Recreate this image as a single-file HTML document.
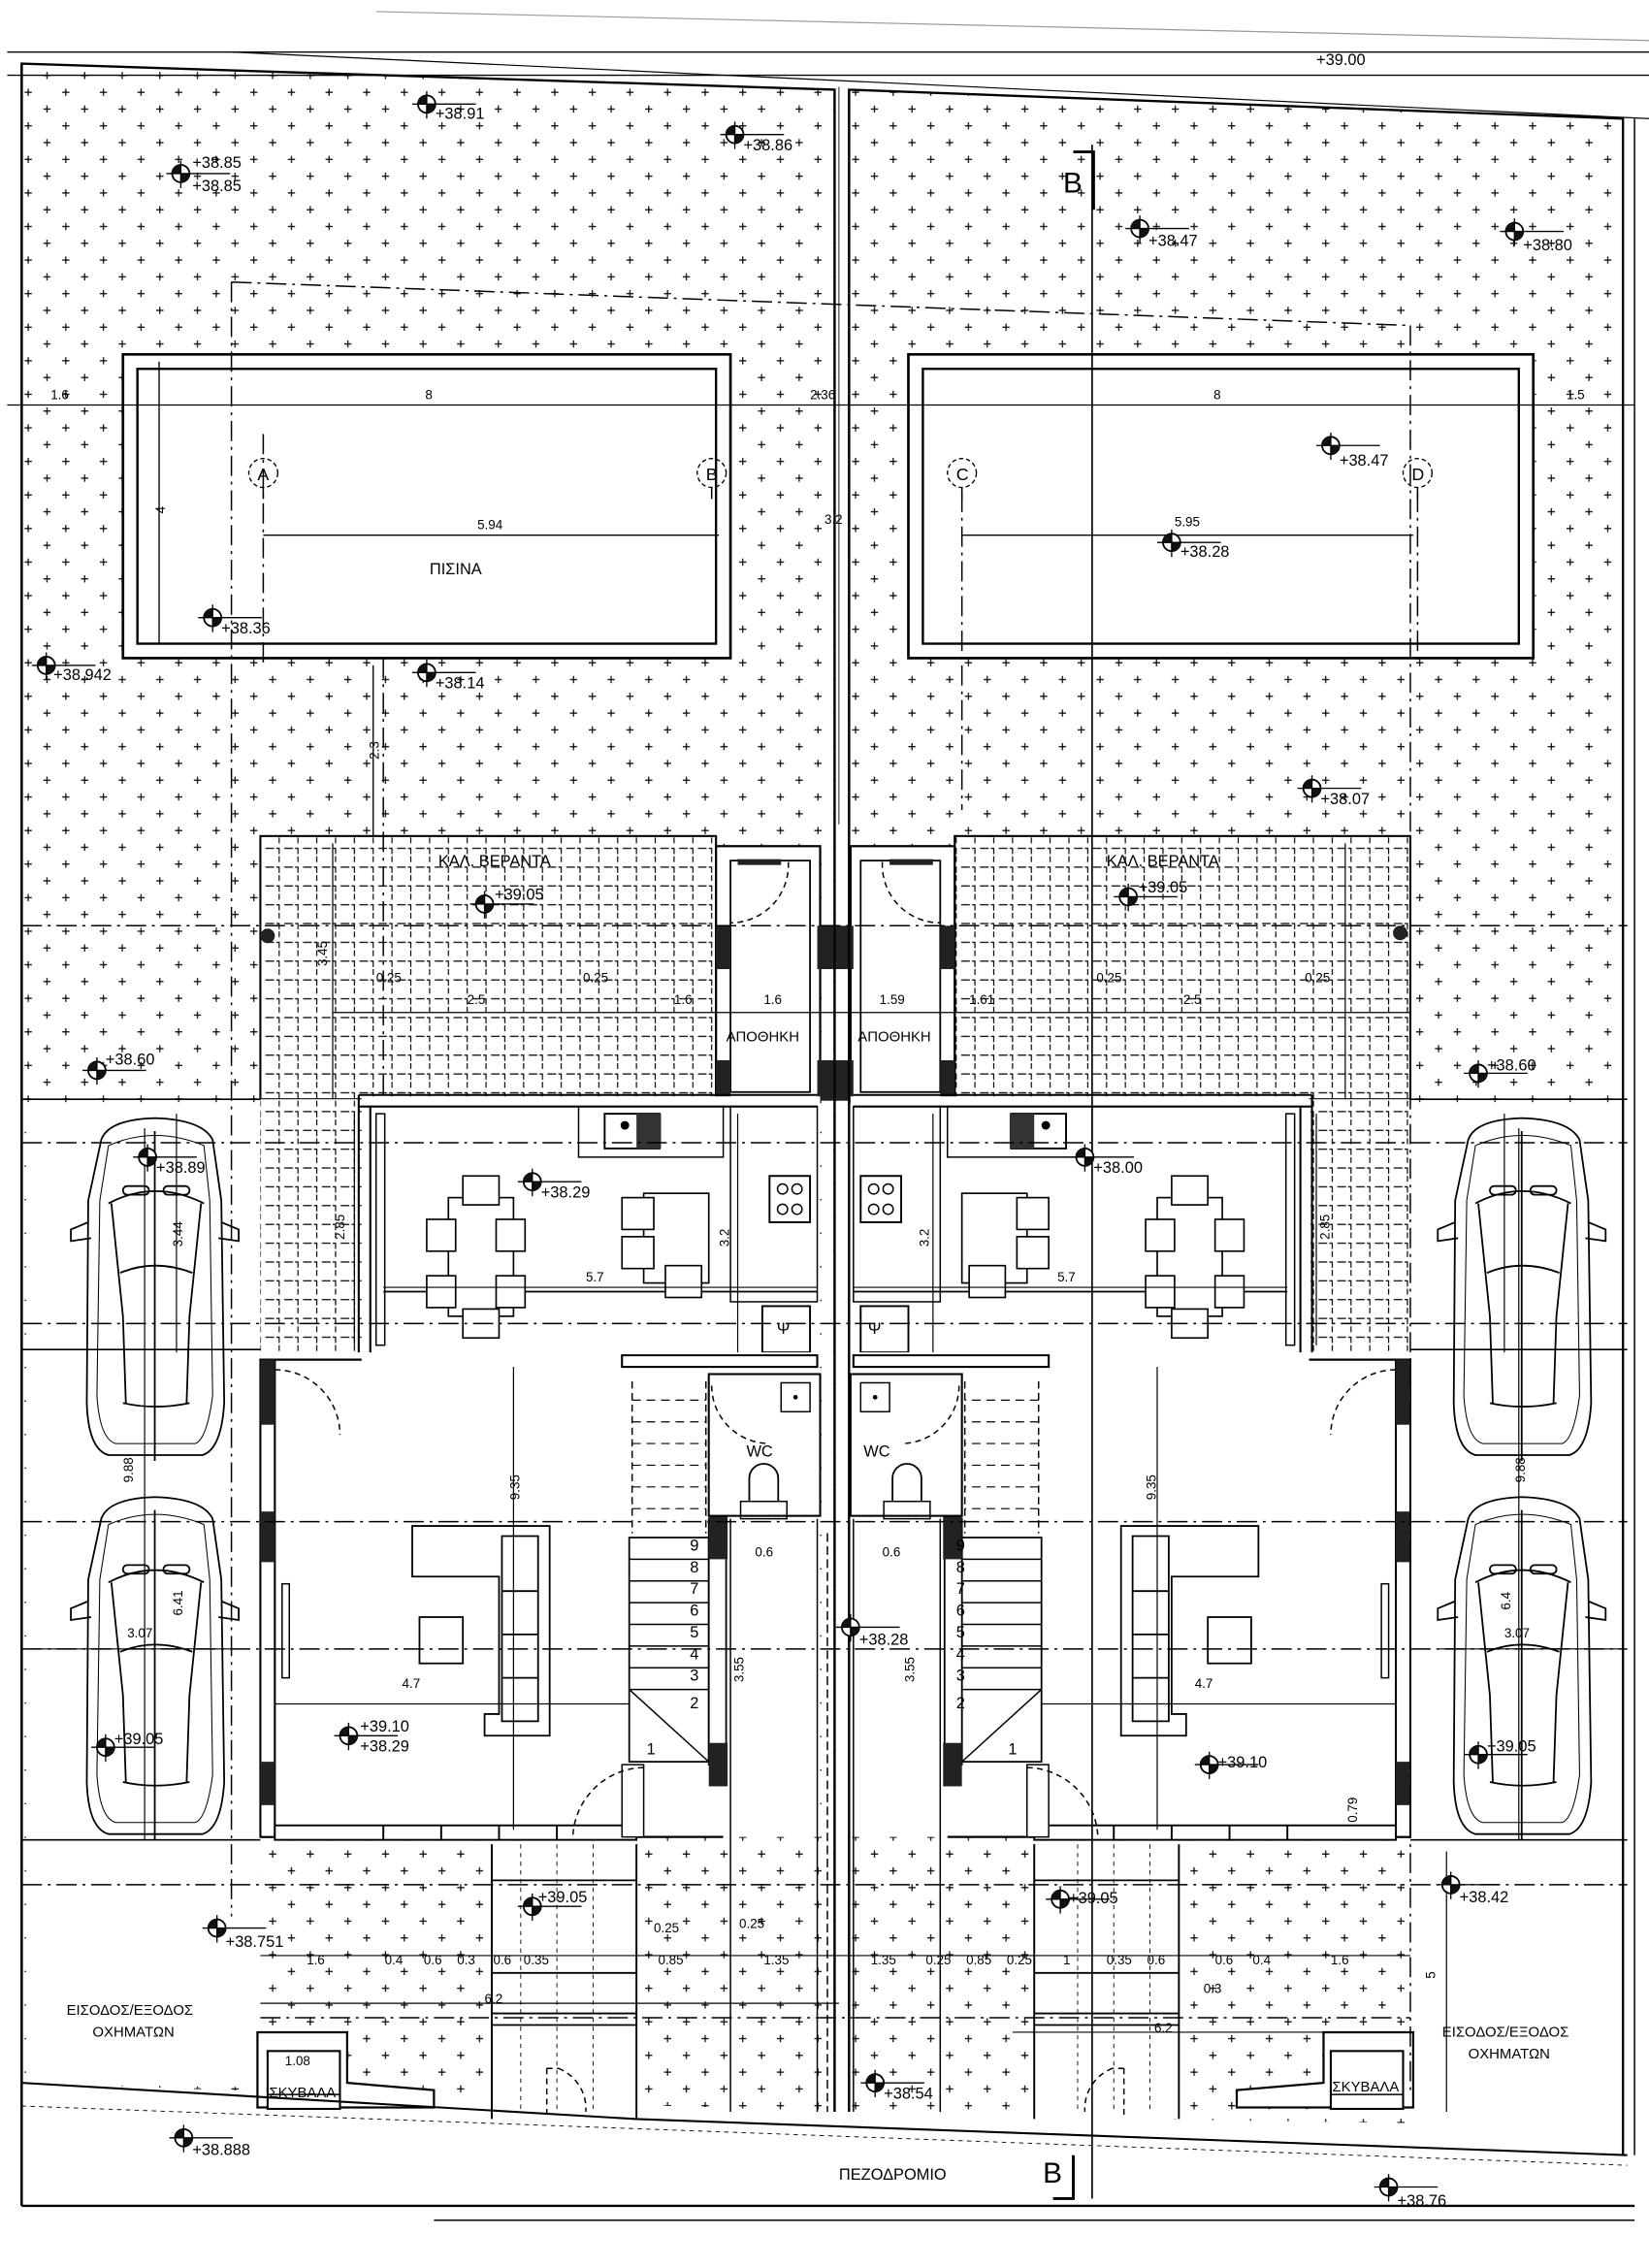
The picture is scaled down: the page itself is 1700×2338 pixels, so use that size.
<!DOCTYPE html>
<html><head><meta charset="utf-8"><style>
html,body{margin:0;padding:0;background:#fff}
svg{display:block}
text{font-family:"Liberation Sans","DejaVu Sans",sans-serif;fill:#000}
</style></head><body>
<svg width="1700" height="2338" viewBox="0 0 1140 1568" preserveAspectRatio="none" xmlns="http://www.w3.org/2000/svg">
<defs>
<pattern id="pl" width="26" height="23.2" patternUnits="userSpaceOnUse">
<path d="M4,5.8h5M6.5,3.3v5M17,17.4h5M19.5,14.9v5" stroke="#000" stroke-width="0.8"/>
</pattern>
<pattern id="tl" width="13" height="13" patternUnits="userSpaceOnUse">
<path d="M1.5,1.5H11V11" stroke="#000" stroke-width="0.8" fill="none" stroke-dasharray="6 1.5"/>
</pattern>
<g id="mk">
<circle r="6" fill="#fff" stroke="#000" stroke-width="1.2"/>
<path d="M0,0H-6A6,6 0 0 1 0,-6Z M0,0H6A6,6 0 0 1 0,6Z" fill="#111"/>
<path d="M-10,0H34M0,-9V10" stroke="#000" stroke-width="0.9"/>
</g>
<g id="car" fill="none" stroke="#000" stroke-width="1.2">
<path d="M15,18 Q20,4 52,3 Q85,4 92,18 L98,60 L100,200 Q98,232 85,236 L20,236 Q6,232 5,200 L6,60 Z"/>
<path d="M20,22 Q52,8 86,22 L90,60 L92,195 Q88,225 80,228 L25,228 Q14,225 12,195 L14,60 Z" stroke-width="0.7"/>
<path d="M20,62 Q52,45 86,62" /><path d="M28,110 Q52,100 78,110"/>
<path d="M22,62 L30,140 L32,200 M84,62 L76,140 L74,200"/>
<path d="M30,200 Q52,205 76,200"/>
<path d="M6,75 L-6,80 L-6,88 L8,86 M98,75 L110,80 L110,88 L96,86"/>
<rect x="30" y="50" width="18" height="6" rx="3"/><rect x="58" y="50" width="18" height="6" rx="3"/>
<path d="M52,12 V240"/>
</g>
</defs>

<path d="M260,8 L1140,28" stroke="#999" stroke-width="0.8" fill="none"/>
<path d="M5,36 H1140 M5,52 H1140" stroke="#000" stroke-width="0.9" fill="none"/>
<path d="M160,36 L1140,82" stroke="#000" stroke-width="0.8" fill="none"/>

<polygon points="15,44 577,62 577,1460 15,1440" fill="url(#pl)"/>
<polygon points="587,62 1122,82 1122,1470 587,1462" fill="url(#pl)"/>
<polyline points="15,1525 15,44 577,62 577,1460" fill="none" stroke="#000" stroke-width="1.6"/>
<polyline points="587,1460 587,62 1122,82 1122,1490" fill="none" stroke="#000" stroke-width="1.6"/>
<path d="M1130,82 V1490" stroke="#000" stroke-width="1"/>

<rect x="85" y="245" width="420" height="210" fill="#fff" stroke="#000" stroke-width="1.8"/>
<rect x="95" y="255" width="400" height="190" fill="none" stroke="#000" stroke-width="1.6"/>
<rect x="628" y="245" width="432" height="210" fill="#fff" stroke="#000" stroke-width="1.8"/>
<rect x="638" y="255" width="412" height="190" fill="none" stroke="#000" stroke-width="1.6"/>

<rect x="18" y="762" width="160" height="512" fill="#fff"/>
<rect x="975" y="762" width="145" height="512" fill="#fff"/>
<polygon points="18,1276 178,1276 178,1443 18,1441" fill="#fff"/>
<polygon points="975,1276 1120,1276 1120,1470 975,1468" fill="#fff"/>
<polygon points="15,1440 1130,1490 1130,1525 15,1525" fill="#fff"/>

<rect x="180" y="578" width="315" height="182" fill="#fff"/>
<rect x="180" y="578" width="315" height="182" fill="url(#tl)" stroke="#000" stroke-width="1.4"/>
<rect x="660" y="578" width="315" height="182" fill="#fff"/>
<rect x="660" y="578" width="315" height="182" fill="url(#tl)" stroke="#000" stroke-width="1.4"/>
<rect x="180" y="760" width="70" height="180" fill="#fff"/>
<rect x="180" y="760" width="70" height="180" fill="url(#tl)"/>
<rect x="905" y="760" width="70" height="180" fill="#fff"/>
<rect x="905" y="760" width="70" height="180" fill="url(#tl)"/>

<g id="house">
<rect x="495" y="585" width="72" height="177" fill="#fff" stroke="#000" stroke-width="1.5"/>
<rect x="505" y="595" width="55" height="160" fill="none" stroke="#000" stroke-width="1.2"/>
<rect x="495" y="640" width="10" height="30" fill="#222"/><rect x="495" y="733" width="10" height="28" fill="#222"/>
<rect x="565" y="640" width="14" height="30" fill="#222"/><rect x="565" y="733" width="14" height="28" fill="#222"/>
<rect x="510" y="594" width="30" height="4" fill="#222"/>
<path d="M545,596 A40,40 0 0 1 505,638" fill="none" stroke="#000" stroke-dasharray="4 3"/>
<rect x="250" y="758" width="317" height="180" fill="#fff"/>
<path d="M248,757 H565 M248,765 H565 M248,757 V940 M256,765 V940" stroke="#000" stroke-width="1.4" fill="none"/>
<rect x="260" y="770" width="6" height="160" fill="none" stroke="#000"/>
<path d="M265,893 H565" stroke="#000" stroke-width="1.2"/>
<rect x="400" y="765" width="100" height="35" fill="none" stroke="#000"/>
<rect x="418" y="770" width="38" height="24" fill="none" stroke="#000" stroke-width="1.3"/>
<circle cx="432" cy="778" r="3" fill="#000"/>
<rect x="440" y="770" width="17" height="24" fill="#333"/>
<rect x="505" y="765" width="60" height="135" fill="none" stroke="#000"/>
<rect x="532" y="813" width="28" height="32" fill="none" stroke="#000" stroke-width="1.3"/>
<circle cx="541" cy="822" r="3.5" fill="none" stroke="#000"/><circle cx="551" cy="822" r="3.5" fill="none" stroke="#000"/>
<circle cx="541" cy="836" r="3.5" fill="none" stroke="#000"/><circle cx="551" cy="836" r="3.5" fill="none" stroke="#000"/>
<rect x="527" y="903" width="33" height="32" fill="#fff" stroke="#000" stroke-width="1.3"/>
<g fill="#fff" stroke="#000" stroke-width="1.1">
<rect x="310" y="828" width="45" height="82"/>
<rect x="320" y="813" width="25" height="20"/><rect x="320" y="905" width="25" height="20"/>
<rect x="295" y="843" width="20" height="22"/><rect x="295" y="882" width="20" height="22"/>
<rect x="343" y="843" width="20" height="22"/><rect x="343" y="882" width="20" height="22"/>
<rect x="445" y="825" width="45" height="62"/>
<rect x="430" y="828" width="22" height="22"/><rect x="430" y="855" width="22" height="22"/>
<rect x="460" y="875" width="25" height="22"/>
</g>
<rect x="180" y="935" width="387" height="335" fill="#fff"/>
<path d="M430,937 H565 V945 H430 Z" fill="#fff" stroke="#000" stroke-width="1.4"/>
<path d="M180,940 H250 M180,1270 H500" stroke="#000" stroke-width="1.5" fill="none"/>
<rect x="180" y="940" width="10" height="330" fill="#fff" stroke="#000" stroke-width="1.4"/>
<rect x="180" y="940" width="10" height="45" fill="#222"/><rect x="180" y="1045" width="10" height="35" fill="#222"/>
<rect x="180" y="1218" width="10" height="30" fill="#222"/>
<rect x="195" y="1095" width="5" height="65" fill="none" stroke="#000"/>
<rect x="190" y="1262" width="250" height="10" fill="#fff" stroke="#000" stroke-width="1.3"/>
<path d="M265,1262 V1272 M305,1262 V1272 M345,1262 V1272 M385,1262 V1272" stroke="#000" stroke-width="1.3"/>
<path d="M190,947 A45,45 0 0 1 235,992" fill="none" stroke="#000" stroke-dasharray="4 3"/>
<g fill="#fff" stroke="#000" stroke-width="1.2">
<path d="M285,1055 H380 V1200 H335 V1185 H345 V1090 H285 Z"/>
<path d="M347,1062 H372 V1190 H347 Z"/>
<path d="M347,1100 H372 M347,1130 H372 M347,1160 H372"/>
<rect x="290" y="1118" width="30" height="32"/>
</g>
<rect x="435" y="950" width="55" height="268" fill="#fff"/>
<path d="M437,955 V1060 M488,955 V1060" stroke="#000" stroke-dasharray="5 3"/>
<g stroke="#000" stroke-dasharray="6 4" stroke-width="0.8"><path d="M437,968H488M437,983H488M437,998H488M437,1013H488M437,1028H488M437,1043H488"/></g>
<path d="M435,1063 H490 V1218 H435 Z" fill="none" stroke="#000" stroke-width="1.2"/>
<path d="M435,1078H490M435,1093H490M435,1108H490M435,1123H490M435,1138H490M435,1153H490M435,1168H490" stroke="#000"/>
<path d="M435,1168 L490,1218" stroke="#000"/>
<rect x="490" y="1050" width="12" height="170" fill="#fff" stroke="#000" stroke-width="1.2"/>
<rect x="490" y="1048" width="13" height="30" fill="#222"/><rect x="490" y="1205" width="13" height="30" fill="#222"/>
<rect x="430" y="1220" width="15" height="50" fill="#fff" stroke="#000"/>
<path d="M445,1222 A50,50 0 0 0 396,1270" fill="none" stroke="#000" stroke-dasharray="4 3"/>
<rect x="490" y="950" width="77" height="98" fill="#fff" stroke="#000" stroke-width="1.4"/>
<rect x="540" y="956" width="20" height="20" fill="none" stroke="#000"/><circle cx="550" cy="966" r="1.6"/>
<path d="M518,1038 V1022 A10,10 0 0 1 538,1022 V1038" fill="none" stroke="#000" stroke-width="1.2"/>
<rect x="512" y="1038" width="32" height="12" fill="none" stroke="#000"/>
<path d="M492,958 A40,40 0 0 0 532,998" fill="none" stroke="#000" stroke-dasharray="4 3"/>
<path d="M505,1050 V1460 M565,1050 V1460" stroke="#000"/>
<rect x="340" y="1275" width="100" height="190" fill="#fff"/>
<path d="M340,1275 V1465 M440,1275 V1465" stroke="#000" stroke-width="1.3"/>
<path d="M340,1300 H440 M340,1364 H440 M340,1392 H440 M340,1400 H440" stroke="#000" stroke-width="1.2"/>
<path d="M378,1430 H386 M378,1430 V1462 M386,1430 A30,30 0 0 1 405,1460" fill="none" stroke="#000" stroke-dasharray="4 3"/>
<g stroke="#000" stroke-width="0.6" stroke-dasharray="3 3"><path d="M360,1275V1460M385,1275V1460M410,1275V1460"/></g>
<polygon points="178,1405 240,1405 240,1440 300,1445 300,1457 178,1457" fill="#fff" stroke="#000" stroke-width="1.5"/>
<rect x="185" y="1418" width="50" height="40" fill="#fff" stroke="#000" stroke-width="1.4"/>
<path d="M185,1448 H235" stroke="#000"/>
</g>
<use href="#house" transform="translate(1155,0) scale(-1,1)"/>

<path d="M577,62 V1460 M587,62 V1460" stroke="#000" stroke-width="1.4" fill="none"/>
<path d="M572,1060 V1460" stroke="#000" stroke-dasharray="6 3"/>

<g stroke="#000" stroke-width="1" stroke-dasharray="14 4 2 4" fill="none">
<path d="M160,195 L975,225"/>
<path d="M160,195 V1325 M975,225 V1445 M182,300 V460 M665,340 V560 M980,340 V460"/>
<path d="M15,640 H1125 M15,790 H1125 M15,915 H1125 M15,1052 H1125 M15,1140 H1125 M15,1303 H1125 M180,1395 H975"/>
<path d="M265,455 V760"/>
</g>
<path d="M15,760 H180 M975,760 H1125 M15,1272 H180 M975,1272 H1125 M15,933 H180 M975,933 H1125" stroke="#000" stroke-width="1.1" fill="none"/>
<path d="M755,100 V1520" stroke="#000" stroke-width="1.1" fill="none"/>
<path d="M742,105 H756 V145 M728,1520 H742 V1490" stroke="#000" stroke-width="2" fill="none"/>
<path d="M440,1465 L1125,1490" stroke="#000" stroke-width="1.4" fill="none"/>
<path d="M15,1440 L440,1465" stroke="#000" stroke-width="1.4" fill="none"/>
<path d="M15,1525 H1130 M15,1525 V44" stroke="#000" stroke-width="1.6" fill="none"/>
<path d="M15,1456 L1125,1497" stroke="#000" stroke-width="0.6" stroke-dasharray="3 3" fill="none"/>
<path d="M300,1535 H1130" stroke="#000" stroke-width="1"/>

<path d="M5,280 H1130" stroke="#000" stroke-width="0.9"/>
<path d="M110,250 V445" stroke="#000" stroke-width="0.9"/>
<path d="M182,370 H497 M665,370 H977" stroke="#000" stroke-width="0.9"/>
<path d="M580,60 V570" stroke="#000" stroke-width="0.6"/>
<path d="M258,460 V578" stroke="#000" stroke-width="0.9"/>
<g fill="none" stroke="#000" stroke-width="0.9" stroke-dasharray="3 2">
<circle cx="182" cy="327" r="10"/><circle cx="492" cy="327" r="10"/><circle cx="665" cy="327" r="10"/><circle cx="980" cy="327" r="10"/>
</g>
<path d="M182,337 V345 M492,337 V345 M665,337 V345 M980,337 V345" stroke="#000"/>
<path d="M230,700 H975" stroke="#000" stroke-width="0.9"/>
<path d="M230,583 V760 M930,583 V760" stroke="#000" stroke-width="0.8"/>
<path d="M265,890 H565 M590,890 H890" stroke="#000" stroke-width="0.8"/>
<path d="M245,770 V930 M910,770 V930" stroke="#000" stroke-width="0.8"/>
<path d="M510,770 V935 M645,770 V935" stroke="#000" stroke-width="0.8"/>
<path d="M355,945 V1265 M800,945 V1265" stroke="#000" stroke-width="0.8"/>
<path d="M190,1178 H435 M720,1178 H965" stroke="#000" stroke-width="0.8"/>
<path d="M20,1140 H160 M995,1140 H1120" stroke="#000" stroke-width="0.8"/>
<path d="M100,780 V1272 M1050,780 V1272 M122,770 V935 M1040,770 V935" stroke="#000" stroke-width="0.8"/>
<path d="M180,1352 H975 M180,1385 H580 M700,1405 H975" stroke="#000" stroke-width="0.8"/>
<path d="M1000,1280 V1460" stroke="#000" stroke-width="0.8"/>

<use href="#car" x="55" y="770"/>
<use href="#car" x="55" y="1032"/>
<use href="#car" x="1000" y="770"/>
<use href="#car" x="1000" y="1032"/>

<circle cx="185" cy="647" r="5" fill="#222"/><circle cx="968" cy="645" r="5" fill="#222"/>

<g>
<use href="#mk" x="295" y="72"/><use href="#mk" x="125" y="120"/><use href="#mk" x="508" y="93"/>
<use href="#mk" x="788" y="158"/><use href="#mk" x="1047" y="160"/><use href="#mk" x="920" y="308"/>
<use href="#mk" x="810" y="375"/><use href="#mk" x="147" y="427"/><use href="#mk" x="32" y="460"/>
<use href="#mk" x="295" y="465"/><use href="#mk" x="907" y="545"/><use href="#mk" x="335" y="625"/>
<use href="#mk" x="780" y="620"/><use href="#mk" x="67" y="740"/><use href="#mk" x="1022" y="742"/>
<use href="#mk" x="102" y="800"/><use href="#mk" x="750" y="800"/><use href="#mk" x="368" y="817"/>
<use href="#mk" x="588" y="1125"/><use href="#mk" x="241" y="1200"/><use href="#mk" x="73" y="1208"/>
<use href="#mk" x="836" y="1220"/><use href="#mk" x="1022" y="1213"/><use href="#mk" x="368" y="1318"/>
<use href="#mk" x="733" y="1313"/><use href="#mk" x="1003" y="1303"/><use href="#mk" x="150" y="1333"/>
<use href="#mk" x="605" y="1440"/><use href="#mk" x="127" y="1478"/><use href="#mk" x="960" y="1512"/>
</g>
<g font-size="11">
<text x="301" y="82">+38.91</text><text x="133" y="116">+38.85</text><text x="133" y="132">+38.85</text>
<text x="514" y="104">+38.86</text><text x="794" y="170">+38.47</text><text x="1053" y="173">+38.80</text>
<text x="926" y="322">+38.47</text><text x="816" y="385">+38.28</text><text x="153" y="438">+38.36</text>
<text x="37" y="470">+38.942</text><text x="301" y="476">+38.14</text><text x="913" y="556">+38.07</text>
<text x="342" y="622">+39.05</text><text x="787" y="617">+39.05</text><text x="73" y="736">+38.60</text>
<text x="1028" y="740">+38.60</text><text x="108" y="811">+38.89</text><text x="756" y="811">+38.00</text>
<text x="374" y="828">+38.29</text><text x="594" y="1137">+38.28</text><text x="249" y="1197">+39.10</text>
<text x="249" y="1211">+38.29</text><text x="79" y="1206">+39.05</text><text x="842" y="1222">+39.10</text>
<text x="1028" y="1211">+39.05</text><text x="372" y="1315">+39.05</text><text x="739" y="1316">+39.05</text>
<text x="1009" y="1315">+38.42</text><text x="156" y="1346">+38.751</text><text x="611" y="1451">+38.54</text>
<text x="133" y="1490">+38.888</text><text x="966" y="1525">+38.76</text><text x="910" y="45">+39.00</text>
</g>

<g font-size="9">
<text x="35" y="276">1.6</text><text x="294" y="276">8</text><text x="560" y="276">2.36</text><text x="839" y="276">8</text><text x="1083" y="276">1.5</text>
<text x="330" y="366">5.94</text><text x="812" y="364">5.95</text><text x="570" y="362">3.2</text>
<text x="260" y="679">0.25</text><text x="323" y="694">2.5</text><text x="403" y="679">0.25</text><text x="466" y="694">1.6</text>
<text x="528" y="694">1.6</text><text x="608" y="694">1.59</text><text x="670" y="694">1.61</text>
<text x="758" y="679">0.25</text><text x="818" y="694">2.5</text><text x="902" y="679">0.25</text>
<text x="405" y="886">5.7</text><text x="731" y="886">5.7</text><text x="278" y="1167">4.7</text><text x="826" y="1167">4.7</text>
<text x="88" y="1132">3.07</text><text x="1040" y="1132">3.07</text>
<text x="522" y="1076">0.6</text><text x="610" y="1076">0.6</text><text transform="translate(938,1260) rotate(-90)">0.79</text>
<text x="212" y="1358">1.6</text><text x="266" y="1358">0.4</text><text x="293" y="1358">0.6</text><text x="316" y="1358">0.3</text>
<text x="341" y="1358">0.6</text><text x="362" y="1358">0.35</text><text x="455" y="1358">0.85</text><text x="528" y="1358">1.35</text>
<text x="602" y="1358">1.35</text><text x="640" y="1358">0.25</text><text x="668" y="1358">0.85</text><text x="696" y="1358">0.25</text>
<text x="735" y="1358">1</text><text x="765" y="1358">0.35</text><text x="793" y="1358">0.6</text><text x="840" y="1358">0.6</text>
<text x="866" y="1358">0.4</text><text x="920" y="1358">1.6</text>
<text x="452" y="1336">0.25</text><text x="511" y="1333">0.25</text>
<text x="335" y="1385">6.2</text><text x="798" y="1405">6.2</text><text x="832" y="1378">0.3</text>
<text x="197" y="1428">1.08</text>
</g>
<g font-size="9">
<text transform="translate(114,355) rotate(-90)">4</text>
<text transform="translate(262,525) rotate(-90)">2.3</text>
<text transform="translate(226,668) rotate(-90)">3.45</text>
<text transform="translate(126,862) rotate(-90)">3.44</text>
<text transform="translate(238,857) rotate(-90)">2.85</text>
<text transform="translate(919,857) rotate(-90)">2.85</text>
<text transform="translate(504,862) rotate(-90)">3.2</text>
<text transform="translate(642,862) rotate(-90)">3.2</text>
<text transform="translate(359,1037) rotate(-90)">9.35</text>
<text transform="translate(799,1037) rotate(-90)">9.35</text>
<text transform="translate(92,1025) rotate(-90)">9.88</text>
<text transform="translate(1054,1025) rotate(-90)">9.88</text>
<text transform="translate(126,1117) rotate(-90)">6.41</text>
<text transform="translate(1044,1113) rotate(-90)">6.4</text>
<text transform="translate(514,1163) rotate(-90)">3.55</text>
<text transform="translate(632,1163) rotate(-90)">3.55</text>
<text transform="translate(992,1368) rotate(-90)">5</text>
</g>
<g font-size="11">
<text x="297" y="397">ΠΙΣΙΝΑ</text>
<text x="303" y="599">ΚΑΛ. ΒΕΡΑΝΤΑ</text><text x="765" y="599">ΚΑΛ. ΒΕΡΑΝΤΑ</text>
<text x="502" y="720" font-size="10">ΑΠΟΘΗΚΗ</text><text x="593" y="720" font-size="10">ΑΠΟΘΗΚΗ</text>
<text x="537" y="922">Ψ</text><text x="600" y="922">Ψ</text>
<text x="516" y="1007">WC</text><text x="597" y="1007">WC</text>
<text x="46" y="1393" font-size="10">ΕΙΣΟΔΟΣ/ΕΞΟΔΟΣ</text><text x="64" y="1408" font-size="10">ΟΧΗΜΑΤΩΝ</text>
<text x="997" y="1408" font-size="10">ΕΙΣΟΔΟΣ/ΕΞΟΔΟΣ</text><text x="1015" y="1423" font-size="10">ΟΧΗΜΑΤΩΝ</text>
<text x="186" y="1450" font-size="10">ΣΚΥΒΑΛΑ</text><text x="921" y="1446" font-size="10">ΣΚΥΒΑΛΑ</text>
<text x="580" y="1507">ΠΕΖΟΔΡΟΜΙΟ</text>
<text x="178" y="332" font-size="12">A</text><text x="488" y="332" font-size="12">B</text>
<text x="661" y="332" font-size="12">C</text><text x="976" y="332" font-size="12">D</text>
<text x="735" y="133" font-size="20">B</text><text x="721" y="1509" font-size="20">B</text>
</g>
<g font-size="11">
<text x="477" y="1072">9</text><text x="477" y="1087">8</text><text x="477" y="1102">7</text><text x="477" y="1117">6</text>
<text x="477" y="1132">5</text><text x="477" y="1147">4</text><text x="477" y="1162">3</text><text x="477" y="1181">2</text>
<text x="661" y="1072">9</text><text x="661" y="1087">8</text><text x="661" y="1102">7</text><text x="661" y="1117">6</text>
<text x="661" y="1132">5</text><text x="661" y="1147">4</text><text x="661" y="1162">3</text><text x="661" y="1181">2</text>
<text x="697" y="1213">1</text><text x="447" y="1213">1</text>
</g>
</svg>
</body></html>
